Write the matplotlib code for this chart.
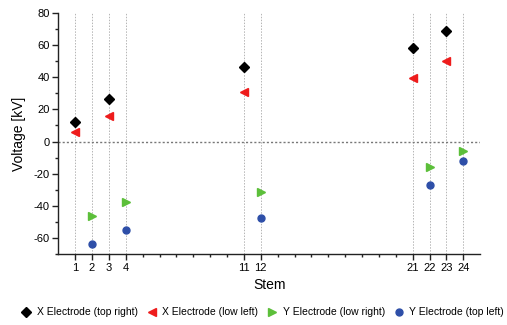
import numpy as np
import matplotlib
matplotlib.use('Agg')
import matplotlib.pyplot as plt
from matplotlib.ticker import MultipleLocator, FixedLocator

plt.rcParams['font.family'] = ['Liberation Sans', 'DejaVu Sans']
plt.rcParams['axes.unicode_minus'] = False

# stems with measurements
stems_labeled = [1, 2, 3, 4, 11, 12, 21, 22, 23, 24]
stems_minor = [5, 6, 7, 8, 9, 10, 13, 14, 15, 16, 17, 18, 19, 20]

# X electrodes measured on odd stems
x_stems = [1, 3, 11, 21, 23]
x_top_right = [12.2, 26.7, 46.5, 58.1, 68.5]
x_low_left = [6.0, 15.9, 30.6, 39.7, 49.8]

# Y electrodes measured on even stems
y_stems = [2, 4, 12, 22, 24]
y_low_right = [-46.1, -37.6, -31.4, -15.9, -5.6]
y_top_left = [-63.6, -55.0, -47.7, -27.1, -12.0]

fig = plt.figure(figsize=(5.07, 3.25), dpi=100)
ax = fig.add_axes([0.115, 0.2175, 0.832, 0.7435])

for s in stems_labeled:
    ax.axvline(s, color='#b5b5b5', lw=0.7, ls=(0, (1.5, 1.5)), zorder=0)
ax.axhline(0, color='#777777', lw=1.0, ls=(0, (1.5, 1.5)), zorder=0)

ax.plot(x_stems, x_top_right, ls='none', marker='D', ms=5, color='black',
        label='X Electrode (top right)')
ax.plot(x_stems, x_low_left, ls='none', marker='<', ms=6, color='#ee1c1c',
        label='X Electrode (low left)')
ax.plot(y_stems, y_low_right, ls='none', marker='>', ms=6, color='#5cbf3a',
        label='Y Electrode (low right)')
ax.plot(y_stems, y_top_left, ls='none', marker='o', ms=5, color='#2e4fa8',
        label='Y Electrode (top left)')

ax.set_xlim(0, 25)
ax.set_ylim(-70, 80)
ax.xaxis.set_major_locator(FixedLocator(stems_labeled))
ax.xaxis.set_minor_locator(FixedLocator(stems_minor))
ax.yaxis.set_major_locator(MultipleLocator(20))
ax.yaxis.set_minor_locator(MultipleLocator(10))

for side in ['top', 'right']:
    ax.spines[side].set_visible(False)
for side in ['left', 'bottom']:
    ax.spines[side].set_color('#222222')
    ax.spines[side].set_linewidth(1.0)

ax.tick_params(which='major', length=4, width=1, labelsize=8, color='#222222', pad=2)
ax.tick_params(which='minor', length=2, width=1, color='#222222')

ax.set_xlabel('Stem', fontsize=10, labelpad=4)
ax.set_ylabel('Voltage [kV]', fontsize=10, labelpad=6)

fig.legend(loc='lower center', bbox_to_anchor=(0.518, -0.005), ncol=4, frameon=False,
           fontsize=7.5, handletextpad=0.5, columnspacing=0.85, handlelength=1.0)

fig.savefig('out.png', dpi=100)
